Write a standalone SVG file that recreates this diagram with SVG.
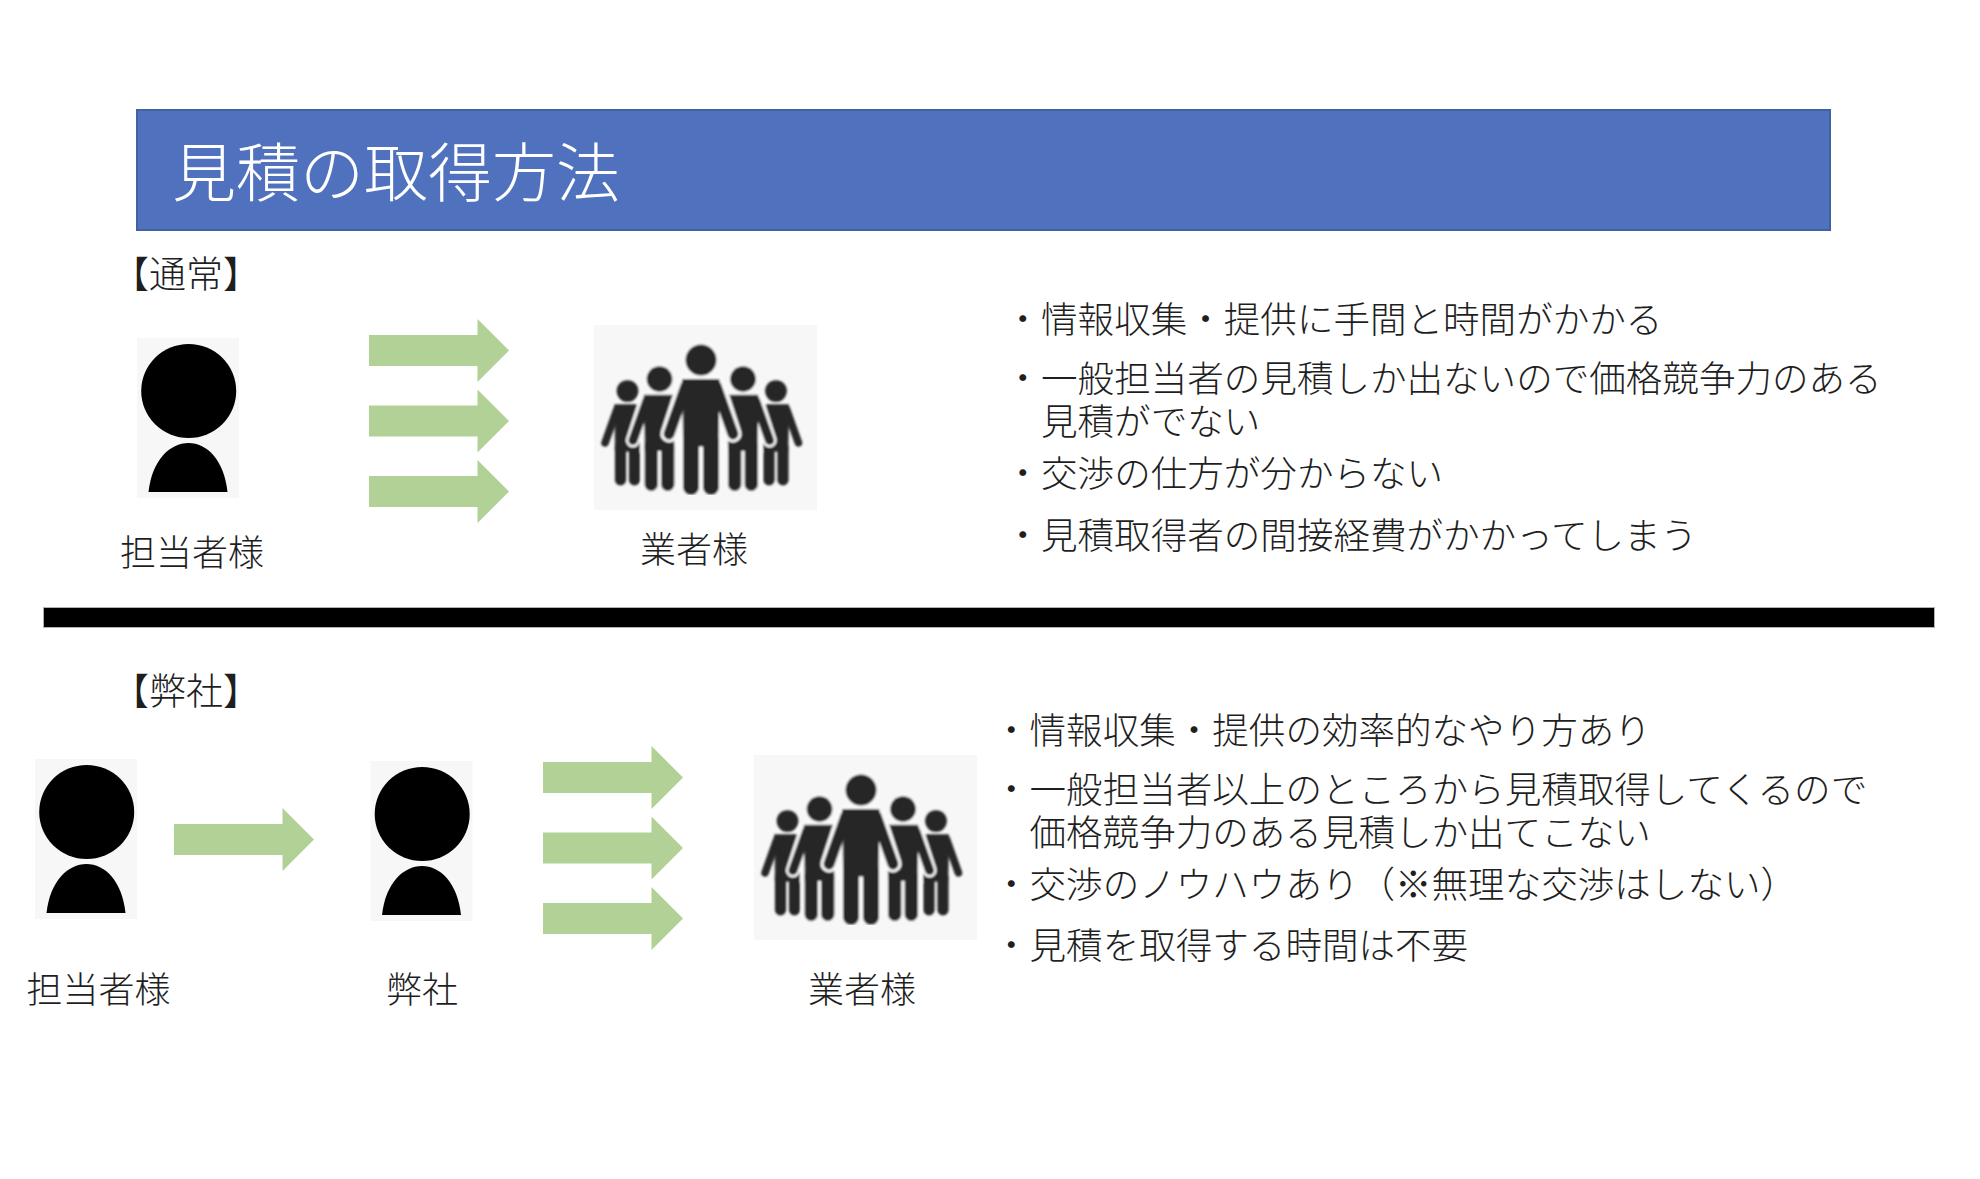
<svg xmlns="http://www.w3.org/2000/svg" xmlns:xlink="http://www.w3.org/1999/xlink" width="1980" height="1179" viewBox="0 0 1980 1179">
  <style>
    text { font-family: "Noto Sans CJK JP", "Noto Sans", sans-serif; font-weight: 300; fill: #1f1f1f; }
    .title { font-size: 64px; fill: #fff; }
    .sec { font-size: 37px; }
    .lbl { font-size: 36px; }
    .body { font-size: 36.550px; }
    .arrow { fill: #b1d197; }
    .bg { fill: #f7f7f7; }
  </style>
  <defs>
    <filter id="soft" x="-5%" y="-5%" width="110%" height="110%"><feGaussianBlur stdDeviation="0.9"/></filter>
    <path id="arr" class="arrow" d="M0 16H108.500V0L140 31.500L108.500 63V47H0Z"/>
    <g id="person">
      <rect class="bg" width="102" height="160"/>
      <ellipse cx="51.700" cy="53" rx="47.500" ry="47"/>
      <path d="M11.500 154C15 122 33 105 51.500 105C70 105 87 122 90.500 154Z"/>
    </g>
    <g id="fig-halo" fill="#fafafa" stroke="#fafafa" stroke-linecap="round">
      <circle r="18"/>
      <path d="M-18 18H18L21 86H-21Z" stroke-width="5"/>
      <path d="M-16 25L-32 74M16 25L32 74" stroke-width="17" fill="none"/>
      <path d="M-10.500 80V125M10.500 80V125" stroke-width="22" fill="none"/>
    </g>
    <g id="fig" fill="#262626" stroke="#262626" stroke-linecap="round">
      <circle r="15.500" stroke="none"/>
      <path d="M-18 19.500H18L17 86H-17Z" stroke-width="1"/>
      <path d="M-15 26L-32 74M15 26L32 74" stroke-width="11" fill="none"/>
      <path d="M-10 80V127M10 80V127" stroke-width="16" fill="none"/>
    </g>
    <g id="crowd">
      <rect class="bg" width="223" height="185"/>
      <g filter="url(#soft)">
        <use xlink:href="#fig" href="#fig" transform="translate(33.500 66) scale(.7)"/>
        <use xlink:href="#fig" href="#fig" transform="translate(182 66) scale(.7)"/>
        <use xlink:href="#fig-halo" href="#fig-halo" transform="translate(65.500 54) scale(.83)"/>
        <use xlink:href="#fig-halo" href="#fig-halo" transform="translate(149 54) scale(.83)"/>
        <use xlink:href="#fig" href="#fig" transform="translate(65.500 54) scale(.83)"/>
        <use xlink:href="#fig" href="#fig" transform="translate(149 54) scale(.83)"/>
        <use xlink:href="#fig-halo" href="#fig-halo" transform="translate(107 35)"/>
        <use xlink:href="#fig" href="#fig" transform="translate(107 35)"/>
      </g>
    </g>
  </defs>

  <rect width="1980" height="1179" fill="#fff"/>

  <g id="banner">
    <rect x="137" y="110" width="1693" height="120" fill="#4f71be" stroke="#41619f" stroke-width="2"/>
    <text class="title" x="172" y="195.500">見積の取得方法</text>
  </g>

  <g id="section-normal">
    <text class="sec" x="112" y="288">【通常】</text>
  </g>
  <g id="node-tantou-1">
    <use xlink:href="#person" href="#person" x="137" y="338"/>
    <text class="lbl" x="120" y="565.500">担当者様</text>
  </g>
  <g id="node-gyosha-1">
    <use xlink:href="#crowd" href="#crowd" transform="translate(594 325)"/>
    <text class="lbl" x="640" y="562.500">業者様</text>
  </g>
  <g id="notes-normal">
    <text class="body" x="1004.500" y="333">・情報収集・提供に手間と時間がかかる</text>
    <text class="body" x="1004.500" y="392">・一般担当者の見積しか出ないので価格競争力のある</text>
    <text class="body" x="1041" y="435">見積がでない</text>
    <text class="body" x="1004.500" y="487">・交渉の仕方が分からない</text>
    <text class="body" x="1004.500" y="549">・見積取得者の間接経費がかかってしまう</text>
  </g>

  <rect id="divider" x="43.500" y="607.500" width="1891" height="20" fill="#000" stroke="#b0b0b0" stroke-width="1"/>

  <g id="section-ours">
    <text class="sec" x="112" y="705">【弊社】</text>
  </g>
  <g id="node-tantou-2">
    <use xlink:href="#person" href="#person" x="35" y="759"/>
    <text class="lbl" x="26.500" y="1003">担当者様</text>
  </g>
  <g id="node-heisha">
    <use xlink:href="#person" href="#person" x="370.500" y="761"/>
    <text class="lbl" x="386" y="1003">弊社</text>
  </g>
  <g id="node-gyosha-2">
    <use xlink:href="#crowd" href="#crowd" transform="translate(754 755)"/>
    <text class="lbl" x="808" y="1003">業者様</text>
  </g>
  <g id="notes-ours">
    <text class="body" x="993" y="744">・情報収集・提供の効率的なやり方あり</text>
    <text class="body" x="993" y="802.500">・一般担当者以上のところから見積取得してくるので</text>
    <text class="body" x="1029.500" y="846">価格競争力のある見積しか出てこない</text>
    <text class="body" x="993" y="898">・交渉のノウハウあり（※無理な交渉はしない）</text>
    <text class="body" x="993" y="959">・見積を取得する時間は不要</text>
  </g>

  <g id="connectors">
    <use xlink:href="#arr" href="#arr" x="369" y="319"/>
    <use xlink:href="#arr" href="#arr" x="369" y="389.500"/>
    <use xlink:href="#arr" href="#arr" x="369" y="460"/>
    <use xlink:href="#arr" href="#arr" x="174" y="808"/>
    <use xlink:href="#arr" href="#arr" x="543" y="746"/>
    <use xlink:href="#arr" href="#arr" x="543" y="816.500"/>
    <use xlink:href="#arr" href="#arr" x="543" y="887"/>
  </g>
</svg>
